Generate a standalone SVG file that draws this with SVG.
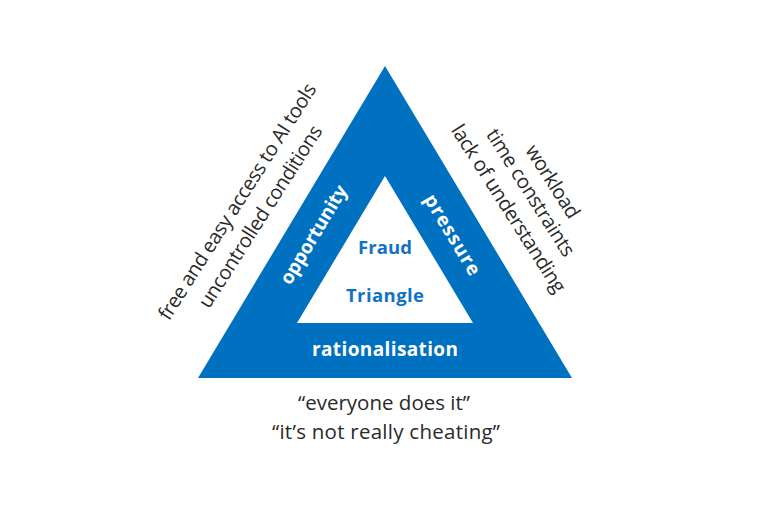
<svg xmlns="http://www.w3.org/2000/svg" width="780" height="520" viewBox="0 0 780 520">
<style>
.side{font-family:"Open Sans","Liberation Sans",sans-serif;font-size:20px;fill:#2a2a2a;text-anchor:middle}
.lab{font-family:"Open Sans","Liberation Sans",sans-serif;font-size:19px;font-weight:bold;fill:#ffffff;text-anchor:middle}
.core{font-family:"Open Sans","Liberation Sans",sans-serif;font-size:18.5px;font-weight:bold;fill:#1472c4;text-anchor:middle}
.quote{font-family:"Open Sans","Liberation Sans",sans-serif;font-size:20.5px;fill:#2a2a2a;text-anchor:middle}
</style>
<rect width="780" height="520" fill="#ffffff"/>
<g id="outer-triangle">
<polygon points="385,66 572,378 198,378" fill="#0070c0"/>
</g>
<g id="inner-triangle">
<polygon points="385,176 473,323 297,323" fill="#ffffff"/>
<text class="core" x="385" y="254" textLength="54">Fraud</text>
<text class="core" x="385" y="302" textLength="78">Triangle</text>
</g>
<g id="opportunity">
<text class="lab" transform="translate(314 235) rotate(-59)" x="0" y="6" textLength="112">opportunity</text>
</g>
<g id="pressure">
<text class="lab" transform="translate(452 235) rotate(59)" x="0" y="6" textLength="91">pressure</text>
</g>
<g id="rationalisation">
<text class="lab" x="385" y="356" textLength="146">rationalisation</text>
</g>
<g id="opportunity-notes">
<text class="side" transform="translate(238 202) rotate(-57.5)" x="0" y="6" textLength="276">free and easy access to AI tools</text>
<text class="side" transform="translate(261 217) rotate(-57.5)" x="0" y="6" textLength="212">uncontrolled conditions</text>
</g>
<g id="pressure-notes">
<text class="side" transform="translate(552 182) rotate(57.5)" x="0" y="6" textLength="83">workload</text>
<text class="side" transform="translate(530 193) rotate(57.5)" x="0" y="6" textLength="147">time constraints</text>
<text class="side" transform="translate(508 209) rotate(57.5)" x="0" y="6" textLength="195">lack of understanding</text>
</g>
<g id="rationalisation-notes">
<text class="quote" x="384" y="410" textLength="172">“everyone does it”</text>
<text class="quote" x="386" y="439" textLength="228">“it’s not really cheating”</text>
</g>
</svg>
